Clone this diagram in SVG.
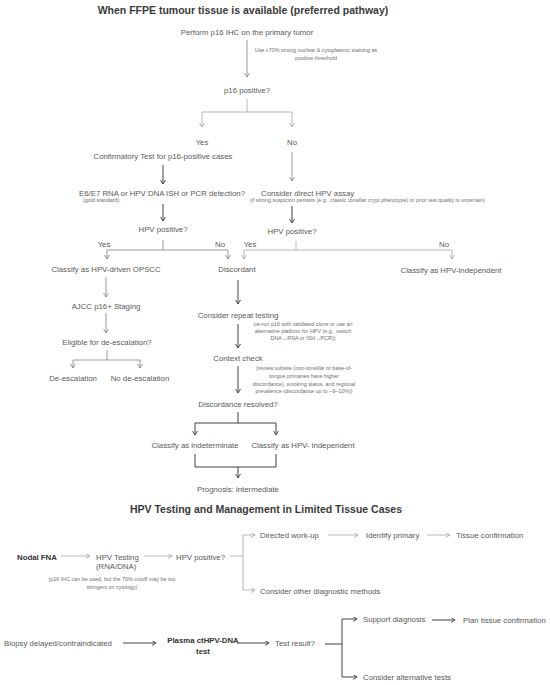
<svg xmlns="http://www.w3.org/2000/svg" width="550" height="685" viewBox="0 0 550 685">
<defs>
<marker id="ah" markerWidth="8" markerHeight="8" refX="4" refY="2.5" orient="auto" markerUnits="userSpaceOnUse" viewBox="0 0 8 8"><path d="M0,0 L4,2.5 L0,5" fill="none" stroke="#808080" stroke-width="0.8"/></marker>
<marker id="ahl" markerWidth="8" markerHeight="8" refX="4" refY="2.5" orient="auto" markerUnits="userSpaceOnUse" viewBox="0 0 8 8"><path d="M0,0 L4,2.5 L0,5" fill="none" stroke="#a6a6a6" stroke-width="0.8"/></marker>
<marker id="ahd" markerWidth="8" markerHeight="8" refX="4" refY="2.5" orient="auto" markerUnits="userSpaceOnUse" viewBox="0 0 8 8"><path d="M0,0 L4,2.5 L0,5" fill="none" stroke="#404040" stroke-width="0.9"/></marker>
</defs>
<style>
text{font-family:"Liberation Sans",Arial,sans-serif;fill:#595959;font-size:7.8px}
.t{font-size:10.5px;font-weight:bold;fill:#3a3a3a;text-anchor:middle}
.b{font-weight:bold;fill:#333}
.m{text-anchor:middle}
.n{font-size:5.4px;fill:#707070}
.c{fill:none;stroke:#808080;stroke-width:0.8}
.cl{fill:none;stroke:#a6a6a6;stroke-width:0.8}
.cd{fill:none;stroke:#404040;stroke-width:1}
.a{marker-end:url(#ah)}
.al{marker-end:url(#ahl)}
.ad{marker-end:url(#ahd)}
</style>
<rect width="550" height="685" fill="#fff"/>
<text class="t" x="243" y="14">When FFPE tumour tissue is available (preferred pathway)</text>
<text class="t" x="266" y="513">HPV Testing and Management in Limited Tissue Cases</text>

<g id="connectors">
<line class="c a" x1="247" y1="40" x2="247" y2="77"/>
<path class="cl" d="M247,99 V112"/>
<path class="cl al" d="M247,112 H202 V127"/>
<path class="cl al" d="M247,112 H292 V127"/>
<line class="cd ad" x1="163" y1="165" x2="163" y2="184"/>
<line class="cd ad" x1="163" y1="204" x2="163" y2="221"/>
<line class="c a" x1="292" y1="152" x2="292" y2="181"/>
<line class="cd ad" x1="292" y1="206" x2="292" y2="223"/>
<path class="c" d="M163,240 V250"/>
<path class="c a" d="M163,250 H107 V259"/>
<path class="c a" d="M163,250 H228 V259"/>
<path class="cl" d="M296,241 V250"/>
<path class="cl al" d="M296,250 H244 V259"/>
<path class="cl al" d="M296,250 H452 V259"/>
<line class="c a" x1="106" y1="277" x2="106" y2="297"/>
<line class="c a" x1="106" y1="313" x2="106" y2="333"/>
<path class="c" d="M107,350 V360"/>
<path class="c a" d="M107,360 H73 V368"/>
<path class="c a" d="M107,360 H140 V368"/>
<line class="cd ad" x1="238" y1="280" x2="238" y2="304"/>
<line class="cd ad" x1="238" y1="324" x2="238" y2="348"/>
<line class="cd ad" x1="238" y1="366" x2="238" y2="393"/>
<path class="cd" d="M238,412 V423"/>
<path class="cd ad" d="M238,423 H195 V435"/>
<path class="cd ad" d="M238,423 H276 V435"/>
<path class="cd" d="M195,454 V467 H276 V454"/>
<line class="cd ad" x1="238" y1="467" x2="238" y2="478"/>
<line class="cl al" x1="61" y1="556" x2="90" y2="556"/>
<line class="cl al" x1="144" y1="556" x2="172" y2="556"/>
<path class="cl" d="M230,556 H243"/>
<path class="cl al" d="M243,556 V535 H255"/>
<path class="cl al" d="M243,556 V590 H255"/>
<line class="cl al" x1="328" y1="535" x2="358" y2="535"/>
<line class="cl al" x1="427" y1="535" x2="450" y2="535"/>
<line class="cd ad" x1="123" y1="643" x2="156" y2="643"/>
<line class="cd ad" x1="237" y1="643" x2="269" y2="643"/>
<path class="cd" d="M325,644 H342"/>
<path class="cd ad" d="M342,644 V619 H357"/>
<path class="cd ad" d="M342,644 V677 H357"/>
<line class="cd ad" x1="432" y1="620" x2="455" y2="620"/>
</g>

<g id="n-perform"><text class="m" x="247" y="35">Perform p16 IHC on the primary tumor</text></g>
<g id="note-threshold"><text class="n m" x="316" y="52">Use ≥70% strong nuclear &amp; cytoplasmic staining as</text><text class="n m" x="316" y="60">positive threshold</text></g>
<g id="n-p16pos"><text class="m" x="247" y="93">p16 positive?</text></g>
<g id="lbl-yes1"><text class="m" x="202" y="145">Yes</text></g>
<g id="lbl-no1"><text class="m" x="292" y="145">No</text></g>
<g id="n-confirm"><text class="m" x="163" y="159">Confirmatory Test for p16-positive cases</text></g>
<g id="n-e6e7"><text class="m" x="162" y="196">E6/E7 RNA or HPV DNA ISH or PCR detection?</text><text class="n" x="83" y="202">(gold standard)</text></g>
<g id="n-hpvpos1"><text class="m" x="163" y="232">HPV positive?</text></g>
<g id="n-direct"><text x="261" y="196">Consider direct HPV assay</text><text class="n" x="250" y="202">(if strong suspicion persists (e.g., classic tonsillar crypt phenotype) or prior test quality is uncertain)</text></g>
<g id="n-hpvpos2"><text class="m" x="292" y="234">HPV positive?</text></g>
<g id="lbl-yes2"><text class="m" x="104" y="247">Yes</text></g>
<g id="lbl-no2"><text class="m" x="220" y="247">No</text></g>
<g id="lbl-yes3"><text class="m" x="250" y="247">Yes</text></g>
<g id="lbl-no3"><text class="m" x="444" y="247">No</text></g>
<g id="n-driven"><text class="m" x="106" y="272">Classify as HPV-driven OPSCC</text></g>
<g id="n-discordant"><text class="m" x="237" y="272">Discordant</text></g>
<g id="n-indep1"><text class="m" x="451" y="273">Classify as HPV-independent</text></g>
<g id="n-ajcc"><text class="m" x="106" y="309">AJCC p16+ Staging</text></g>
<g id="n-eligible"><text class="m" x="107" y="345">Eligible for de-escalation?</text></g>
<g id="n-deesc"><text class="m" x="73" y="381">De-escalation</text></g>
<g id="n-nodeesc"><text class="m" x="140" y="381">No de-escalation</text></g>
<g id="n-repeat"><text class="m" x="238" y="318">Consider repeat testing</text><text class="n m" x="303" y="326">(re-run p16 with validated clone or use an</text><text class="n m" x="303" y="333">alternative platform for HPV (e.g., switch</text><text class="n m" x="303" y="340">DNA→RNA or ISH→PCR))</text></g>
<g id="n-context"><text class="m" x="238" y="361">Context check</text><text class="n m" x="304" y="370">(review subsite (non-tonsillar or base-of-</text><text class="n m" x="304" y="378">tongue primaries have higher</text><text class="n m" x="304" y="386">discordance), smoking status, and regional</text><text class="n m" x="304" y="393">prevalence (discordance up to ~9–10%))</text></g>
<g id="n-resolved"><text class="m" x="238" y="407">Discordance resolved?</text></g>
<g id="n-indeterminate"><text class="m" x="195" y="448">Classify as indeterminate</text></g>
<g id="n-indep2"><text class="m" x="303" y="448">Classify as HPV- independent</text></g>
<g id="n-prognosis"><text class="m" x="238" y="492">Prognosis: intermediate</text></g>

<g id="n-fna"><text class="b" x="17" y="560">Nodal FNA</text></g>
<g id="n-hpvtest"><text x="96" y="560">HPV Testing</text><text x="96" y="569">(RNA/DNA)</text></g>
<g id="note-p16"><text class="n m" x="112" y="581">(p16 IHC can be used, but the 70% cutoff may be too</text><text class="n m" x="112" y="589">stringent on cytology)</text></g>
<g id="n-hpvpos3"><text x="176" y="560">HPV positive?</text></g>
<g id="n-directed"><text x="260" y="538">Directed work-up</text></g>
<g id="n-identify"><text x="366" y="538">Identify primary</text></g>
<g id="n-tissue"><text x="456" y="538">Tissue confirmation</text></g>
<g id="n-other"><text x="260" y="594">Consider other diagnostic methods</text></g>

<g id="n-biopsy"><text x="4" y="646">Biopsy delayed/contraindicated</text></g>
<g id="n-plasma"><text class="b m" x="203" y="643">Plasma ctHPV-DNA</text><text class="b m" x="203" y="654">test</text></g>
<g id="n-result"><text x="275" y="646">Test result?</text></g>
<g id="n-support"><text x="363" y="622">Support diagnosis</text></g>
<g id="n-plan"><text x="463" y="623">Plan tissue confirmation</text></g>
<g id="n-alt"><text x="363" y="680">Consider alternative tests</text></g>
</svg>
